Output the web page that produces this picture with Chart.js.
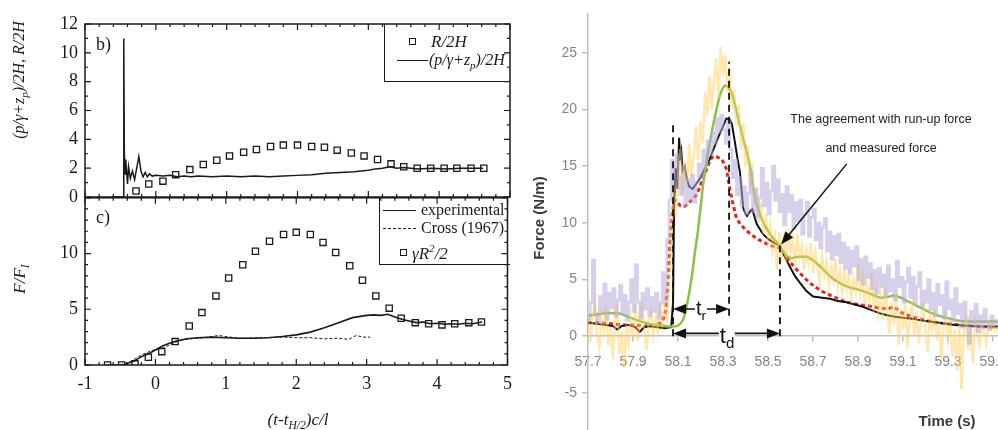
<!DOCTYPE html>
<html>
<head>
<meta charset="utf-8">
<script src="https://cdn.jsdelivr.net/npm/chart.js@4.4.1/dist/chart.umd.min.js"></script>
<style>
  html, body { margin: 0; padding: 0; background: #fff; }
  body { width: 998px; height: 430px; position: relative; overflow: hidden; }
  canvas { position: absolute; }
  .t { position: absolute; white-space: nowrap; line-height: 1; }
  .serif { font-family: 'Liberation Serif', 'DejaVu Serif', serif; color: #1a1a1a; }
  .sans { font-family: 'Liberation Sans', Arial, sans-serif; }
  .it { font-style: italic; }
  .rot { transform: translate(-50%, -50%) rotate(-90deg); }
  .mid { transform: translate(-50%, -50%); }
  .lft { transform: translateY(-50%); }
  sub { font-size: 68%; vertical-align: -0.35em; line-height: 0; }
  sup { font-size: 65%; vertical-align: 0.55em; line-height: 0; }
  .box { position: absolute; box-sizing: border-box; border-left: 1.5px solid #1a1a1a; border-bottom: 1.5px solid #1a1a1a; }
  .sq { position: absolute; width: 7px; height: 7px; box-sizing: border-box; border: 1.3px solid #1a1a1a; }
  .ln { position: absolute; height: 0; border-top: 1.4px solid #1a1a1a; }
  .dash { position: absolute; height: 0; border-top: 1px dashed #1a1a1a; }
  .tag { background: #fff; padding: 0 1px; color: #111; }
</style>
</head>
<body>
<canvas id="chartB" width="520" height="215" style="left:0;top:0"></canvas>
<canvas id="chartC" width="520" height="250" style="left:0;top:180px"></canvas>
<canvas id="chartF" width="500" height="450" style="left:530px;top:0"></canvas>

<!-- left panels: labels and legends -->
<div class="t serif" style="left:96px;top:35px;font-size:18px">b)</div>
<div class="t serif" style="left:96px;top:208px;font-size:18px">c)</div>
<div class="t serif it rot" style="left:19px;top:80px;font-size:16px">(p/γ+z<sub>p</sub>)/2H, R/2H</div>
<div class="t serif it rot" style="left:19px;top:279px;font-size:17px">F/F<sub>I</sub></div>
<div class="t serif it mid" style="left:298px;top:419px;font-size:17px">(t-t<sub>H/2</sub>)c/l</div>

<div class="box" style="left:384px;top:24px;width:126px;height:58px"></div>
<div class="sq" style="left:409px;top:38px"></div>
<div class="t serif it lft" style="left:431px;top:41px;font-size:17px">R/2H</div>
<div class="ln" style="left:397px;top:60px;width:31px"></div>
<div class="t serif it lft" style="left:429px;top:60px;font-size:16px">(p/γ+z<sub>p</sub>)/2H</div>

<div class="box" style="left:379px;top:197px;width:131px;height:68px"></div>
<div class="ln" style="left:383px;top:210px;width:33px"></div>
<div class="t serif lft" style="left:421px;top:210px;font-size:16px">experimental</div>
<div class="dash" style="left:383px;top:228px;width:33px"></div>
<div class="t serif lft" style="left:421px;top:228px;font-size:16px">Cross (1967)</div>
<div class="sq" style="left:400px;top:249px"></div>
<div class="t serif it lft" style="left:412px;top:253px;font-size:17px">γR<sup>2</sup>/2</div>

<!-- right panel: titles and notes -->
<div class="t sans rot" style="left:538px;top:218px;font-size:15px;font-weight:bold;color:#3a3a3a">Force (N/m)</div>
<div class="t sans mid" style="left:947px;top:420px;font-size:15px;font-weight:bold;color:#3a3a3a">Time (s)</div>
<div class="t sans mid" style="left:881px;top:119px;font-size:12.5px;color:#222">The agreement with run-up force</div>
<div class="t sans mid" style="left:881px;top:148px;font-size:12.5px;color:#222">and measured force</div>
<div class="t sans mid tag" style="left:701px;top:308px;font-size:20px">t<sub>r</sub></div>
<div class="t sans mid tag" style="left:727px;top:336px;font-size:22px">t<sub>d</sub></div>

<script>
// ---- panel b: pressure head and run-up ----
const bT = [-0.62, -0.46, -0.455, -0.45, -0.445, -0.435, -0.425, -0.415, -0.40, -0.385,
  -0.36, -0.33, -0.30, -0.27, -0.24, -0.21, -0.18, -0.15, -0.12, -0.09,
  -0.05, 0.0, 0.1, 0.2, 0.3, 0.4, 0.5, 0.6, 0.8, 1.0,
  1.2, 1.4, 1.6, 1.8, 2.0, 2.2, 2.4, 2.6, 2.8, 3.0,
  3.1, 3.2, 3.3, 3.4, 3.5, 3.7, 3.9, 4.1, 4.3, 4.5, 4.62];
const bHead = [0, 0, 0.3, 11.0, 3.2, 1.6, 2.6, 1.9, 0.9, 2.1,
  1.3, 1.8, 1.2, 2.0, 2.8, 1.8, 1.4, 1.7, 1.4, 1.6,
  1.45, 1.5, 1.45, 1.5, 1.4, 1.45, 1.4, 1.45, 1.4, 1.45,
  1.4, 1.45, 1.4, 1.45, 1.5, 1.55, 1.65, 1.7, 1.75, 1.85,
  1.95, 2.0, 2.1, 2.0, 2.05, 1.95, 2.0, 1.95, 2.0, 2.0, 2.0];
const bRunT = [-0.28, -0.1, 0.1, 0.28, 0.48, 0.67, 0.86, 1.04, 1.24, 1.42, 1.62, 1.8, 2.0, 2.2,
  2.38, 2.56, 2.76, 2.94, 3.13, 3.32, 3.5, 3.69, 3.88, 4.07, 4.25, 4.45, 4.63];
const bRun = [0.42, 0.9, 1.1, 1.55, 1.9, 2.25, 2.55, 2.85, 3.1, 3.3, 3.5, 3.6, 3.6, 3.5,
  3.45, 3.25, 3.05, 2.85, 2.6, 2.3, 2.1, 2.0, 2.0, 2.0, 2.0, 2.0, 2.0];

// ---- panel c: force ratio ----
const cT = [-0.7, -0.45, -0.4, -0.3, -0.2, -0.1, 0.0, 0.1, 0.2, 0.3,
  0.45, 0.6, 0.8, 1.0, 1.2, 1.4, 1.6, 1.8, 2.0, 2.2,
  2.4, 2.6, 2.8, 3.0, 3.1, 3.2, 3.3, 3.4, 3.5, 3.6,
  3.7, 3.8, 3.9, 4.0, 4.1, 4.2, 4.3, 4.4, 4.5, 4.64];
const cExp = [0, 0, 0.15, 0.35, 0.75, 1.0, 1.35, 1.7, 1.95, 2.15,
  2.35, 2.45, 2.5, 2.45, 2.4, 2.4, 2.45, 2.55, 2.7, 2.95,
  3.35, 3.8, 4.25, 4.45, 4.5, 4.45, 4.55, 4.3, 4.1, 3.95,
  3.8, 3.85, 3.7, 3.75, 3.65, 3.7, 3.65, 3.75, 3.7, 3.85];
const crossT = [-0.5, -0.35, -0.2, -0.05, 0.1, 0.2, 0.35, 0.5, 0.7, 0.9, 1.0,
  1.2, 1.5, 1.8, 2.0, 2.2, 2.4, 2.6, 2.75, 2.85, 2.95, 3.05];
const crossF = [0, 0.3, 0.9, 1.3, 1.5, 1.8, 2.2, 2.35, 2.45, 2.65, 2.55,
  2.4, 2.45, 2.5, 2.45, 2.45, 2.35, 2.4, 2.3, 2.65, 2.5, 2.5];
const cRunT = [-0.68, -0.48, -0.29, -0.1, 0.09, 0.28, 0.48, 0.66, 0.86, 1.04, 1.24, 1.42, 1.62, 1.82, 2.0,
  2.2, 2.38, 2.56, 2.76, 2.94, 3.13, 3.32, 3.49, 3.69, 3.88, 4.07, 4.25, 4.45, 4.63];
const cRun = [0, 0, 0.1, 0.7, 1.2, 2.1, 3.5, 4.7, 6.2, 7.8, 9.0, 10.2, 11.1, 11.7, 11.9,
  11.7, 11.0, 10.1, 8.9, 7.6, 6.2, 5.1, 4.2, 3.8, 3.7, 3.6, 3.7, 3.8, 3.85];

const bTicks = [0, 2, 4, 6, 8, 10, 12];
const cTicks = [0, 5, 10];
const phaseTicks = [-1, 0, 1, 2, 3, 4, 5];

// ---- right panel: force time series (sampled every 0.01 s from 57.70 s) ----
const sampleStart = 57.70;
const sampleStep = 0.01;
const lavenderF = [
  1.5, 3.0, 6.7, 2.0, 1.2, 3.5, 2.2, 4.6, 1.5, 3.8,
  2.5, 4.2, 1.8, 3.2, 4.5, 2.0, 3.6, 1.4, 3.0, 5.0,
  2.2, 6.3, 3.0, 1.6, 3.8, 2.4, 4.2, 1.8, 3.4, 2.2,
  3.8, 1.6, 2.9, 5.6, 3.0, 8.5, 12.0, 15.5, 13.0, 16.0,
  14.0, 12.5, 15.0, 11.5, 13.8, 12.0, 14.2, 11.8, 13.6, 15.2,
  14.0, 16.4, 15.0, 17.2, 16.0, 18.0, 17.0, 19.2, 18.0, 19.5,
  18.2, 17.0, 19.0, 16.5, 14.0, 15.5, 12.5, 14.0, 11.5, 13.2,
  10.8, 12.6, 14.5, 11.0, 13.0, 10.5, 12.2, 14.8, 11.5, 13.5,
  10.8, 12.8, 15.0, 12.0, 13.8, 11.0, 12.5, 9.8, 13.2, 11.0,
  12.4, 9.5, 11.8, 10.2, 12.0, 9.0, 10.8, 11.8, 8.8, 10.5,
  11.2, 8.5, 10.0, 7.8, 9.6, 10.4, 7.5, 9.2, 6.8, 8.8,
  7.2, 9.0, 6.5, 8.2, 6.0, 7.8, 5.6, 7.5, 6.2, 7.9,
  5.0, 6.8, 4.6, 7.0, 5.2, 6.4, 4.2, 5.8, 3.8, 6.0,
  4.4, 5.4, 3.6, 6.2, 4.0, 5.0, 3.2, 6.6, 4.4, 5.2,
  3.0, 4.8, 6.0, 3.4, 5.2, 2.8, 4.4, 5.6, 2.6, 4.0,
  3.0, 5.0, 2.4, 3.8, 1.8, 4.6, 2.8, 3.6, 1.6, 4.8,
  2.4, 3.2, 1.4, 4.2, 2.0, 2.8, 0.8, 3.0, 1.6, -0.6,
  2.2, 1.0, 2.8, 0.4, 1.8, 0.8, 2.4, 1.2, 0.6, 1.8,
  1.0, 1.4, 0.9];
const yellowF = [
  2.0, -0.5, 1.5, 3.0, 0.2, -1.0, 1.8, 0.5, 2.6, -0.8,
  0.8, -2.0, 1.2, 2.4, -1.5, 0.4, -2.8, 1.0, -0.6, 1.6,
  0.0, 2.8, -0.4, 1.2, 3.0, 0.6, -1.2, 1.4, 2.2, 0.2,
  1.6, 0.4, 2.6, 1.0, 3.0, 1.2, 4.5, 9.0, 13.0, 10.5,
  14.0, 16.5, 12.5, 15.5, 13.5, 17.0, 14.0, 16.0, 18.5, 15.5,
  19.0, 17.0, 21.5, 19.5, 23.0, 20.0, 22.5, 24.5, 21.0, 25.5,
  23.0, 24.8, 21.5, 23.5, 20.0, 21.8, 18.5, 20.5, 16.5, 18.8,
  15.0, 16.8, 13.2, 14.5, 11.5, 13.0, 10.0, 11.8, 9.0, 10.8,
  8.5, 9.8, 7.5, 8.8, 5.8, 9.2, 7.0, 8.4, 6.5, 9.5,
  7.2, 8.6, 6.2, 9.0, 7.0, 8.0, 5.8, 7.6, 6.4, 8.2,
  5.6, 7.4, 6.0, 4.8, 7.0, 5.4, 6.6, 4.6, 6.2, 5.0,
  6.8, 4.4, 5.8, 3.6, 6.0, 4.2, 5.4, 3.4, 5.0, 4.0,
  6.4, 3.8, 5.2, 2.8, 4.6, 3.2, 5.6, 2.6, 4.0, 2.0,
  3.6, 1.4, 4.4, 2.2, 0.2, 3.0, 1.0, 3.8, -0.8, 2.4,
  0.6, 3.2, -1.0, 1.8, 2.8, 0.0, 2.2, -0.6, 1.4, 3.0,
  0.4, -1.4, 1.8, 0.6, 2.4, -0.4, 1.2, -2.0, 0.8, 2.0,
  -0.2, 1.4, -1.8, 0.6, -3.0, 1.0, -4.7, 0.4, 1.6, -1.2,
  0.8, -2.4, 1.2, 0.2, -0.8, 1.0, 0.4, -0.6, 1.2, 0.6,
  1.0, 0.4, 0.8];

const blackT = [57.70, 57.74, 57.78, 57.81, 57.83, 57.85, 57.88, 57.91, 57.93, 57.95,
  57.98, 58.01, 58.04, 58.07, 58.078, 58.083, 58.09, 58.097, 58.105, 58.11,
  58.115, 58.12, 58.13, 58.14, 58.15, 58.165, 58.18, 58.20, 58.22, 58.24,
  58.26, 58.28, 58.30, 58.315, 58.33, 58.34, 58.353, 58.365, 58.375, 58.383,
  58.39, 58.40, 58.407, 58.42, 58.43, 58.45, 58.478, 58.50, 58.522, 58.553,
  58.575, 58.598, 58.62, 58.642, 58.67, 58.70, 58.74, 58.776, 58.81, 58.85,
  58.885, 58.922, 58.96, 59.00, 59.04, 59.073, 59.11, 59.144, 59.18, 59.22,
  59.26, 59.295, 59.33, 59.37, 59.41, 59.44, 59.48, 59.52];
const blackF = [1.2, 1.1, 1.0, 0.9, 0.6, 0.9, 1.0, 0.8, 0.4, 0.8,
  0.9, 0.8, 0.7, 0.8, 3.0, 12.0, 14.8, 13.0, 17.5, 15.5,
  16.2, 14.6, 15.0, 13.8, 13.2, 13.0, 13.4, 14.0, 14.8, 15.6,
  16.6, 17.6, 18.5, 19.2, 19.1, 18.7, 17.1, 15.6, 14.5, 12.8,
  11.3, 10.8, 10.6, 11.0, 11.2, 9.9, 9.0, 8.6, 8.3, 8.0,
  7.0, 6.1, 5.3, 4.7, 4.0, 3.5, 3.4, 3.3, 3.1, 3.0,
  2.8, 2.6, 2.3, 2.0, 1.8, 1.7, 1.6, 1.55, 1.4, 1.3,
  1.2, 1.1, 1.0, 0.95, 0.9, 0.85, 0.85, 0.85];

const redT = [57.70, 57.75, 57.80, 57.85, 57.90, 57.95, 58.00, 58.03, 58.045, 58.055,
  58.065, 58.075, 58.085, 58.095, 58.11, 58.125, 58.14, 58.16, 58.184, 58.205,
  58.227, 58.245, 58.257, 58.275, 58.295, 58.31, 58.318, 58.33, 58.345, 58.36,
  58.38, 58.405, 58.43, 58.45, 58.48, 58.51, 58.55, 58.575, 58.60, 58.635,
  58.67, 58.705, 58.745, 58.80, 58.85, 58.90, 58.94, 58.99, 59.03, 59.06,
  59.09, 59.14, 59.20, 59.25, 59.29, 59.35, 59.40, 59.44, 59.52];
const redF = [1.2, 1.2, 1.1, 1.0, 1.0, 0.9, 0.9, 1.3, 2.2, 4.5,
  8.5, 11.0, 12.0, 11.9, 11.5, 11.4, 11.6, 12.0, 12.5, 13.6,
  14.7, 15.6, 15.9, 15.8, 15.6, 15.0, 14.5, 13.0, 11.6, 10.4,
  9.8, 9.3, 8.9, 8.6, 8.3, 8.0, 7.8, 7.2, 6.5, 5.7,
  5.0, 4.4, 3.9, 3.4, 3.0, 2.8, 2.7, 2.5, 2.4, 2.6,
  2.1, 1.7, 1.4, 1.2, 1.1, 1.0, 0.9, 0.85, 0.8];

const greenT = [57.70, 57.75, 57.80, 57.84, 57.88, 57.92, 57.96, 58.00, 58.03, 58.06,
  58.085, 58.11, 58.125, 58.14, 58.153, 58.165, 58.175, 58.188, 58.198, 58.21,
  58.23, 58.25, 58.27, 58.287, 58.31, 58.322, 58.34, 58.353, 58.37, 58.39,
  58.42, 58.435, 58.45, 58.475, 58.50, 58.52, 58.55, 58.575, 58.60, 58.635,
  58.67, 58.70, 58.74, 58.775, 58.81, 58.85, 58.885, 58.92, 58.96, 59.00,
  59.03, 59.06, 59.09, 59.12, 59.17, 59.22, 59.26, 59.30, 59.34, 59.38,
  59.45, 59.52];
const greenF = [1.8, 1.95, 2.05, 2.0, 1.7, 1.4, 1.15, 1.0, 0.95, 0.85,
  0.85, 1.1, 1.6, 2.8, 4.2, 5.8, 7.4, 9.2, 10.9, 13.1,
  15.8, 18.0, 19.9, 21.3, 22.1, 22.0, 21.4, 20.4, 19.0, 17.4,
  15.0, 13.0, 11.6, 10.2, 9.3, 8.7, 8.0, 7.3, 6.9, 7.0,
  7.0, 6.7, 6.0, 5.3, 4.8, 4.4, 4.2, 4.0, 3.7, 3.4,
  3.45, 3.6, 3.4, 3.1, 2.6, 2.1, 1.8, 1.6, 1.4, 1.3,
  1.3, 1.3];

const timeTicks = [57.7, 57.9, 58.1, 58.3, 58.5, 58.7, 58.9, 59.1, 59.3, 59.5];
const forceTicks = [-5, 0, 5, 10, 15, 20, 25];

// rise / duration markers: [time, from force, to force]
const guideLines = [[58.078, 0, 18.6], [58.327, 1.8, 24.2], [58.553, 0, 8.0]];
// double arrows: [start time, end time, force level]
const spanArrows = [[58.078, 58.327, 2.4], [58.078, 58.553, 0.25]];
// callout arrow: [from time, from force, to time, to force]
const noteArrow = [58.85, 15.2, 58.558, 8.1];

const pts = (xs, ys) => xs.map((x, i) => ({x, y: ys[i]}));
const sampled = vals => vals.map((v, i) => ({x: sampleStart + i * sampleStep, y: v}));
const fixTicks = list => scale => { scale.ticks = list.map(v => ({value: v})); };

const serifTick = {family: "'Liberation Serif', serif", size: 18};
const ink = '#1a1a1a';

// box with inward major/minor ticks on all four sides
const frameTicks = {
  id: 'frameTicks',
  afterDraw(chart, args, o) {
    const {ctx, chartArea: a, scales: {x, y}} = chart;
    const isMajor = (v, step) => Math.abs(v / step - Math.round(v / step)) < 1e-6;
    ctx.save();
    ctx.strokeStyle = ink;
    ctx.lineWidth = 1.5;
    ctx.strokeRect(a.left, a.top, a.right - a.left, a.bottom - a.top);
    ctx.lineWidth = 1.2;
    ctx.beginPath();
    for (let i = 0; x.min + i * o.xMinor <= x.max + 1e-9; i++) {
      const v = x.min + i * o.xMinor;
      const px = x.getPixelForValue(v);
      const len = isMajor(v, o.xMajor) ? 6 : 3;
      ctx.moveTo(px, a.bottom); ctx.lineTo(px, a.bottom - len);
      ctx.moveTo(px, a.top); ctx.lineTo(px, a.top + len);
    }
    for (let i = 0; y.min + i * o.yMinor <= y.max + 1e-9; i++) {
      const v = y.min + i * o.yMinor;
      const py = y.getPixelForValue(v);
      const len = isMajor(v, o.yMajor) ? 6 : 3;
      ctx.moveTo(a.left, py); ctx.lineTo(a.left + len, py);
      ctx.moveTo(a.right, py); ctx.lineTo(a.right - len, py);
    }
    ctx.stroke();
    ctx.restore();
  }
};

function leftPanel(id, datasets, yMax, yTicks, yMajor, showX, padding) {
  return new Chart(document.getElementById(id), {
    type: 'line',
    data: {datasets},
    options: {
      responsive: false,
      animation: false,
      devicePixelRatio: 1,
      layout: {padding},
      plugins: {legend: {display: false}, tooltip: {enabled: false}, frameTicks: {xMinor: 0.2, xMajor: 1, yMinor: 1, yMajor}},
      scales: {
        x: {
          type: 'linear', min: -1, max: 5, display: showX,
          afterBuildTicks: fixTicks(phaseTicks),
          afterFit: s => { s.height = showX ? 65 : 0; },
          grid: {display: false, drawTicks: false},
          border: {display: false},
          ticks: {font: serifTick, color: ink, padding: 8, maxRotation: 0, autoSkip: false, callback: v => String(v)}
        },
        y: {
          min: 0, max: yMax,
          afterBuildTicks: fixTicks(yTicks),
          afterFit: s => { s.width = 85; },
          grid: {display: false, drawTicks: false},
          border: {display: false},
          ticks: {font: serifTick, color: ink, padding: 7, autoSkip: false, callback: v => String(v)}
        }
      }
    },
    plugins: [frameTicks]
  });
}

const squares = {showLine: false, pointStyle: 'rect', pointRadius: 4.4, pointBorderWidth: 1.3,
  pointBorderColor: ink, pointBackgroundColor: 'rgba(0,0,0,0)'};

leftPanel('chartB', [
  {data: pts(bT, bHead), borderColor: ink, borderWidth: 1.5, pointRadius: 0},
  Object.assign({data: pts(bRunT, bRun)}, squares)
], 12, bTicks, 2, false, {top: 24, right: 10, bottom: 18, left: 0});

leftPanel('chartC', [
  {data: pts(cT, cExp), borderColor: ink, borderWidth: 1.6, pointRadius: 0},
  {data: pts(crossT, crossF), borderColor: ink, borderWidth: 1, borderDash: [3, 2], pointRadius: 0},
  Object.assign({data: pts(cRunT, cRun)}, squares)
], 15, cTicks, 5, true, {top: 17, right: 10, bottom: 0, left: 0});

// ---- right panel ----
function arrowHead(ctx, tx, ty, ang) {
  const len = 13, half = 5;
  const bx = tx - len * Math.cos(ang), by = ty - len * Math.sin(ang);
  ctx.beginPath();
  ctx.moveTo(tx, ty);
  ctx.lineTo(bx - half * Math.sin(ang), by + half * Math.cos(ang));
  ctx.lineTo(bx + half * Math.sin(ang), by - half * Math.cos(ang));
  ctx.closePath();
  ctx.fill();
}

const guides = {
  id: 'guides',
  afterDatasetsDraw(chart) {
    const {ctx, scales: {x, y}} = chart;
    ctx.save();
    ctx.strokeStyle = '#111';
    ctx.fillStyle = '#111';
    ctx.lineWidth = 1.8;
    ctx.setLineDash([7, 5]);
    guideLines.forEach(([t, f0, f1]) => {
      const px = x.getPixelForValue(t);
      ctx.beginPath();
      ctx.moveTo(px, y.getPixelForValue(f0));
      ctx.lineTo(px, y.getPixelForValue(f1));
      ctx.stroke();
    });
    ctx.setLineDash([]);
    ctx.lineWidth = 1.6;
    spanArrows.forEach(([t0, t1, f]) => {
      const x0 = x.getPixelForValue(t0), x1 = x.getPixelForValue(t1), py = y.getPixelForValue(f);
      ctx.beginPath();
      ctx.moveTo(x0 + 6, py);
      ctx.lineTo(x1 - 6, py);
      ctx.stroke();
      arrowHead(ctx, x0, py, Math.PI);
      arrowHead(ctx, x1, py, 0);
    });
    const [ta, fa, tb, fb] = noteArrow;
    const ax = x.getPixelForValue(ta), ay = y.getPixelForValue(fa);
    const bx = x.getPixelForValue(tb), by = y.getPixelForValue(fb);
    const ang = Math.atan2(by - ay, bx - ax);
    ctx.lineWidth = 1.5;
    ctx.beginPath();
    ctx.moveTo(ax, ay);
    ctx.lineTo(bx - 8 * Math.cos(ang), by - 8 * Math.sin(ang));
    ctx.stroke();
    arrowHead(ctx, bx, by, ang);
    ctx.restore();
  }
};

const axisGray = '#bfbfbf';
const tickFont = {family: "'Liberation Sans', Arial, sans-serif", size: 14};

new Chart(document.getElementById('chartF'), {
  type: 'line',
  data: {
    datasets: [
      {data: sampled(lavenderF), borderColor: 'rgba(180,170,216,0.55)', borderWidth: 2.8, stepped: true, pointRadius: 0},
      {data: sampled(yellowF), borderColor: 'rgba(255,208,95,0.5)', borderWidth: 2.5, pointRadius: 0},
      {data: pts(greenT, greenF), borderColor: '#8dbf4b', borderWidth: 2.5, cubicInterpolationMode: 'monotone', pointRadius: 0},
      {data: pts(blackT, blackF), borderColor: '#111', borderWidth: 2, pointRadius: 0},
      {data: pts(redT, redF), borderColor: '#e3261f', borderWidth: 3, borderDash: [4, 3], pointRadius: 0}
    ]
  },
  options: {
    responsive: false,
    animation: false,
    devicePixelRatio: 1,
    layout: {padding: {top: 10, right: 10, bottom: 10, left: 0}},
    plugins: {legend: {display: false}, tooltip: {enabled: false}},
    scales: {
      x: {
        type: 'linear', min: 57.7, max: 59.62, position: {y: 0},
        afterBuildTicks: fixTicks(timeTicks),
        grid: {drawOnChartArea: false, drawTicks: true, tickLength: 5, color: axisGray, lineWidth: 1.5},
        border: {color: axisGray, width: 1.5},
        ticks: {font: tickFont, color: '#858585', padding: 12, maxRotation: 0, autoSkip: false, callback: v => v.toFixed(1)}
      },
      y: {
        min: -8.85, max: 28.47,
        afterBuildTicks: fixTicks(forceTicks),
        afterFit: s => { s.width = 58; },
        grid: {drawOnChartArea: false, drawTicks: true, tickLength: 6, color: axisGray, lineWidth: 1.5},
        border: {color: axisGray, width: 1.5},
        ticks: {font: tickFont, color: '#858585', padding: 5, callback: v => String(v)}
      }
    }
  },
  plugins: [guides]
});
</script>
</body>
</html>
